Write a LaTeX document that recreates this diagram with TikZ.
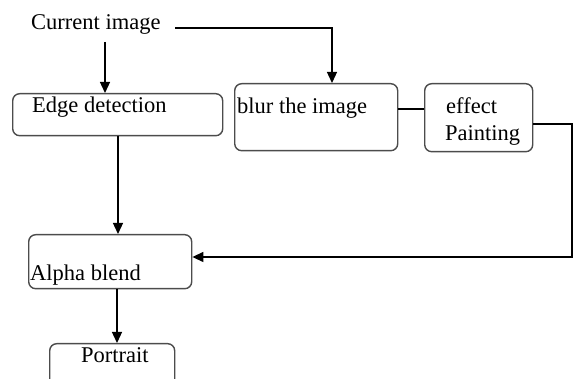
\documentclass[tikz,border=0pt]{standalone}
\usepackage{fontspec}
\setmainfont{Liberation Serif}
\usetikzlibrary{arrows.meta}
\begin{document}
\begin{tikzpicture}[x=1pt,y=-1pt,
  box/.style={draw=black!70, line width=1.4pt, rounded corners=7pt, inner sep=0pt, anchor=north west},
  txt/.style={font=\fontsize{22.5}{25}\selectfont, inner sep=0pt, anchor=base west, text=black},
  arr/.style={-{Triangle[length=11pt,width=10pt]}, line width=1.3pt},
  ln/.style={line width=1.3pt}]
\useasboundingbox (0,0) rectangle (576,379);
\clip (0,0) rectangle (576,379);
% boxes
\node[box, minimum width=210pt, minimum height=42pt] (edge) at (12,93) {};
\node[box, minimum width=163pt, minimum height=67pt] (blur) at (234,83) {};
\node[box, minimum width=108pt, minimum height=68pt] (effect) at (424,83) {};
\node[box, minimum width=163pt, minimum height=54pt] (alpha) at (28,234) {};
\node[box, minimum width=125pt, minimum height=60pt] (portrait) at (49,343) {};
% texts
\node[txt] (cur) at (31,30) {Current image};
\node[txt] (tedge) at (32,113) {Edge detection};
\node[txt] (tblur) at (237,114) {blur the image};
\node[txt] (teff) at (446,114) {effect};
\node[txt] (tpaint) at (445,141) {Painting};
\node[txt] (talpha) at (30,281) {Alpha blend};
\node[txt] (tport) at (81,363) {Portrait};
% connectors
\coordinate (c1) at (175,28);
\coordinate (c2) at (332,28);
\coordinate (c3) at (572,124);
\coordinate (c4) at (572,257);
\draw[arr] (105,42) -- (edge.north -| 105,0);
\draw[arr] (c1) -- (c2) -- (blur.north -| c2);
\draw[ln] (blur.east |- 0,109) -- (effect.west |- 0,109);
\draw[arr] (effect.east |- c3) -- (c3) -- (c4) -- (alpha.east |- c4);
\draw[arr] (edge.south -| 118,0) -- (alpha.north -| 118,0);
\draw[arr] (alpha.south -| 117,0) -- (portrait.north -| 117,0);
\end{tikzpicture}
\end{document}
